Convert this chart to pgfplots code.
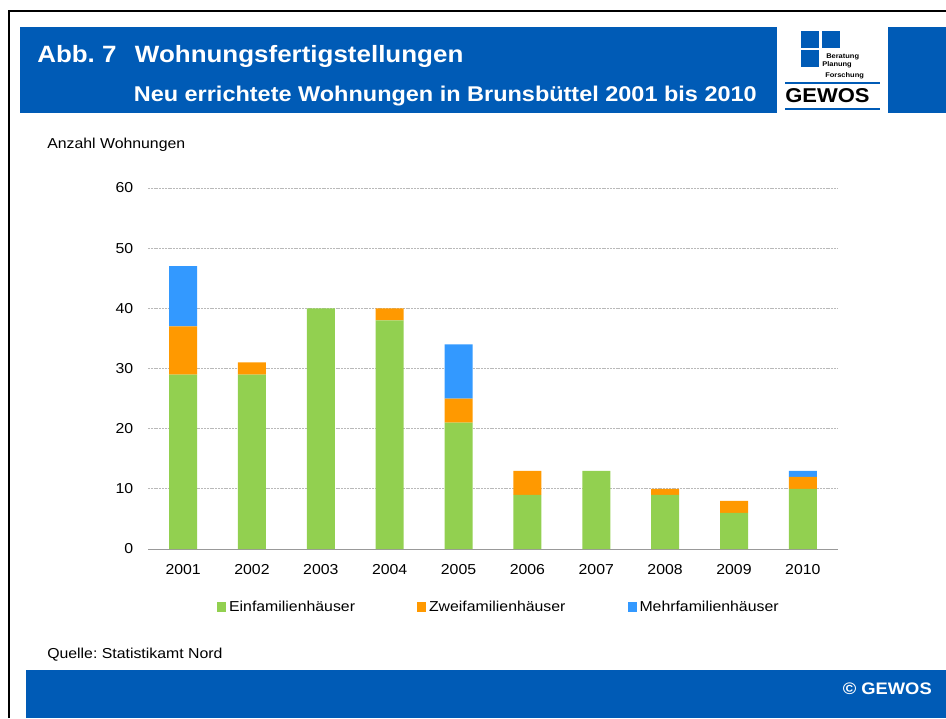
\documentclass[border=0pt]{standalone}
\usepackage{fontspec}
\setmainfont{Liberation Sans}[FakeStretch=1.1]
\usepackage{pgfplots}
\pgfplotsset{compat=1.18}

\definecolor{gewosblue}{RGB}{0,91,182}
\definecolor{colEFH}{RGB}{146,208,80}
\definecolor{colZFH}{RGB}{255,153,0}
\definecolor{colMFH}{RGB}{51,153,255}

\newcommand{\smallfont}{\fontsize{10.8}{12}\selectfont}

\begin{document}
\frenchspacing
\begin{tikzpicture}[x=0.75pt,y=-0.75pt]
\useasboundingbox (0,0) rectangle (946,718);

% frame
\draw[line width=2pt] (9,718) -- (9,11) -- (946,11);

% header band
\fill[gewosblue] (20,27) rectangle (777,113);
\fill[gewosblue] (888,27) rectangle (946,113);
\node[anchor=base west, inner sep=0, text=white, font=\bfseries\fontsize{17.7}{20}\selectfont]
  at (37,62) {Abb. 7\hspace{0.78em}Wohnungsfertigstellungen};
\node[anchor=base east, inner sep=0, text=white, font=\bfseries\fontsize{16}{18}\selectfont]
  at (757,101) {Neu errichtete Wohnungen in Brunsbüttel 2001 bis 2010};

% logo
\fill[gewosblue] (801,31) rectangle (819,48);
\fill[gewosblue] (822,31) rectangle (840,48);
\fill[gewosblue] (801,50) rectangle (819,67);
\node[anchor=base west, inner sep=0, font=\bfseries\fontsize{5.1}{6}\selectfont] at (826,58) {Beratung};
\node[anchor=base west, inner sep=0, font=\bfseries\fontsize{5.1}{6}\selectfont] at (822,66) {Planung};
\node[anchor=base west, inner sep=0, font=\bfseries\fontsize{5.1}{6}\selectfont] at (825,77) {Forschung};
\draw[gewosblue, line width=1.6pt] (785,83) -- (880,83);
\draw[gewosblue, line width=1.6pt] (785,109) -- (880,109);
\node[anchor=base west, inner sep=0, font=\bfseries\fontsize{15}{17}\selectfont] at (785,102) {GEWOS};

% footer
\fill[gewosblue] (26,670) rectangle (946,718);
\node[anchor=base east, inner sep=0, text=white, font=\bfseries\fontsize{12.5}{14}\selectfont]
  at (932,694) {© GEWOS};

\node[anchor=base west, inner sep=0, font=\smallfont] at (47,148) {Anzahl Wohnungen};
\node[anchor=base west, inner sep=0, font=\smallfont] at (47,658) {Quelle: Statistikamt Nord};

\begin{axis}[
    at={(111pt,-411.75pt)}, anchor=south west,
    scale only axis,
    width=517.5pt, height=270.75pt,
    ybar stacked,
    bar width=21pt,
    xmin=2000.49, xmax=2010.51,
    ymin=0, ymax=60,
    xtick={2001,...,2010},
    ytick={0,10,...,60},
    separate axis lines,
    axis x line*=bottom,
    axis y line*=left,
    x axis line style={draw=gray!80, line width=0.6pt, -},
    y axis line style={draw=none},
    major tick length=0pt,
    ymajorgrids=true,
    grid style={gray!55, line width=0.6pt, dash pattern=on 1.5pt off 0.6pt},
    tick label style={font=\smallfont},
    /pgf/number format/assume math mode=true,
    x tick label style={/pgf/number format/1000 sep={}, yshift=-8pt},
    y tick label style={xshift=-7.6pt},
    legend style={
        at={(0.509,-0.161)}, anchor=center,
        draw=none, fill=none,
        legend columns=3,
        font=\smallfont,
        /tikz/every even column/.append style={column sep=44.5pt},
    },
    legend image code/.code={\fill[#1] (0pt,-3.5pt) rectangle (7pt,3.5pt);},
]

% Einfamilienhaeuser
\addplot[fill=colEFH, draw=none] coordinates {
    (2001,29) (2002,29) (2003,40) (2004,38) (2005,21)
    (2006,9) (2007,13) (2008,9) (2009,6) (2010,10)
};
\addlegendentry{Einfamilienhäuser}

% Zweifamilienhaeuser
\addplot[fill=colZFH, draw=none] coordinates {
    (2001,8) (2002,2) (2003,0) (2004,2) (2005,4)
    (2006,4) (2007,0) (2008,1) (2009,2) (2010,2)
};
\addlegendentry{Zweifamilienhäuser}

% Mehrfamilienhaeuser
\addplot[fill=colMFH, draw=none] coordinates {
    (2001,10) (2002,0) (2003,0) (2004,0) (2005,9)
    (2006,0) (2007,0) (2008,0) (2009,0) (2010,1)
};
\addlegendentry{Mehrfamilienhäuser}

\end{axis}
\end{tikzpicture}
\end{document}
